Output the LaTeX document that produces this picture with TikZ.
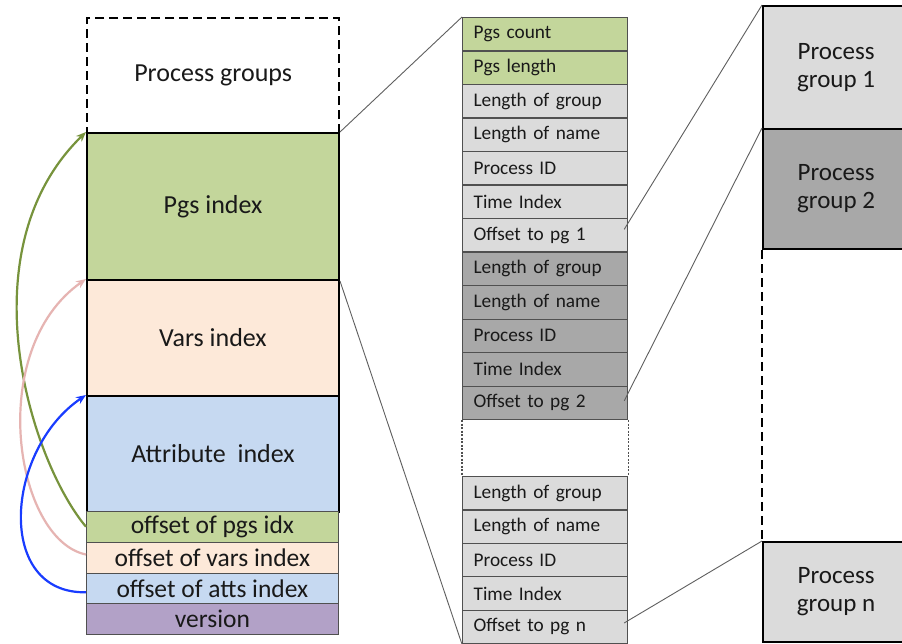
\documentclass[tikz,border=0pt]{standalone}
\usepackage{fontspec}
\setmainfont{Carlito}
\usetikzlibrary{arrows.meta}
\definecolor{pgsgreen}{RGB}{195,214,155}
\definecolor{varspeach}{RGB}{253,233,217}
\definecolor{attblue}{RGB}{198,217,241}
\definecolor{verpurple}{RGB}{178,161,199}
\definecolor{lgray}{RGB}{219,219,219}
\definecolor{dgray}{RGB}{168,168,168}
\definecolor{txt}{RGB}{25,25,25}
\definecolor{cellline}{RGB}{80,80,80}
\definecolor{connline}{RGB}{95,95,95}
\definecolor{arrgreen}{RGB}{119,147,60}
\definecolor{arrpink}{RGB}{230,180,178}
\definecolor{arrblue}{RGB}{25,60,255}
\tikzset{
  bigcell/.style={draw=black, line width=2pt, minimum width=252pt, inner sep=0pt,
    anchor=north west, text=txt, font=\fontsize{26}{30}\selectfont},
  offcell/.style={draw=cellline, line width=0.8pt, minimum width=252pt, minimum height=30.75pt,
    inner sep=0pt, anchor=north west, text=txt, font=\fontsize{25.5}{28}\selectfont},
  midcell/.style={draw=cellline, line width=1.2pt, minimum height=33.5pt, text width=143pt,
    inner xsep=11pt, inner ysep=0pt, align=left, anchor=north west, text=txt,
    font=\fontsize{19.3}{22}\selectfont},
  rbox/.style={draw=black, line width=2.2pt, minimum width=146pt, inner sep=0pt,
    anchor=north west, align=center, text=txt, font=\fontsize{25}{28}\selectfont},
  bigdash/.style={draw=black, line width=2.4pt, dash pattern=on 9pt off 5pt},
  gapline/.style={draw=cellline, line width=1.2pt, dash pattern=on 2pt off 1.5pt},
  conn/.style={draw=connline, line width=0.9pt},
  curvearr/.style={line width=2.2pt, -{Stealth[length=10pt,width=8pt]}}
}
\begin{document}
\begin{tikzpicture}[x=1pt,y=-1pt]
\useasboundingbox (0,0) rectangle (902,644);
\clip (0,0) rectangle (902,644);
\fill[white] (0,0) rectangle (902,644);

% left column
\node[bigcell, bigdash, minimum height=115pt] (pg) at (86,17) {Process groups};
\node[bigcell, fill=pgsgreen, minimum height=147pt] (pgsidx) at (86,132) {Pgs index};
\node[bigcell, fill=varspeach, minimum height=116pt] (varsidx) at (86,279) {Vars index};
\node[bigcell, fill=attblue, minimum height=116pt] (attidx) at (86,395) {Attribute\ \ index};
\node[offcell, fill=pgsgreen] (opgs) at (86,511) {offset of pgs idx};
\node[offcell, fill=varspeach] (ovars) at (86,541.75) {offset of vars index};
\node[offcell, fill=attblue] (oatts) at (86,572.5) {offset of atts index};
\node[offcell, fill=verpurple] (ver) at (86,603.25) {version};

% middle column
\node[midcell, fill=pgsgreen] (m1) at (462,17) {Pgs count};
\node[midcell, fill=pgsgreen] (m2) at (462,50.5) {Pgs length};
\node[midcell, fill=lgray] (m3) at (462,84) {Length of group};
\node[midcell, fill=lgray] (m4) at (462,117.5) {Length of name};
\node[midcell, fill=lgray] (m5) at (462,151) {Process ID};
\node[midcell, fill=lgray] (m6) at (462,184.5) {Time Index};
\node[midcell, fill=lgray] (m7) at (462,218) {Offset to pg 1};
\node[midcell, fill=dgray] (m8) at (462,251.5) {Length of group};
\node[midcell, fill=dgray] (m9) at (462,285) {Length of name};
\node[midcell, fill=dgray] (m10) at (462,318.5) {Process ID};
\node[midcell, fill=dgray] (m11) at (462,352) {Time Index};
\node[midcell, fill=dgray] (m12) at (462,385.5) {Offset to pg 2};
\node[midcell, fill=lgray] (n1) at (462,476) {Length of group};
\node[midcell, fill=lgray] (n2) at (462,509.4) {Length of name};
\node[midcell, fill=lgray] (n3) at (462,542.8) {Process ID};
\node[midcell, fill=lgray] (n4) at (462,576.2) {Time Index};
\node[midcell, fill=lgray] (n5) at (462,609.6) {Offset to pg n};
\draw[gapline] (m12.south west) -- (n1.north west);
\draw[gapline] (m12.south east) -- (n1.north east);

% right column
\node[rbox, fill=lgray, minimum height=123pt] (pg1) at (762,5) {Process\\group 1};
\node[rbox, fill=dgray, minimum height=120pt] (pg2) at (762,128) {Process\\group 2};
\node[rbox, fill=lgray, minimum height=100pt] (pgn) at (762,541) {Process\\group n};
\draw[bigdash] (pg2.south west) -- (pgn.north west);

% zoom connectors
\draw[conn] (pgsidx.north east) -- (m1.north west);
\draw[conn] (pgsidx.south east) -- (n5.south west);
\draw[conn] ([xshift=-4pt,yshift=6pt]m7.east) -- (pg1.north west);
\draw[conn] ([xshift=-4pt,yshift=2pt]m12.east) -- (pg2.north west);
\draw[conn] ([xshift=-4pt,yshift=4pt]n5.east) -- (pgn.north west);

% offset arrows
\draw[curvearr, arrgreen] (opgs.west) .. controls (30,460) and (-35,250) .. (pgsidx.north west);
\draw[curvearr, arrpink] ([yshift=3pt]ovars.west) .. controls (15,540) and (-15,350) .. (varsidx.north west);
\draw[curvearr, arrblue] ([yshift=-4pt]oatts.west) .. controls (-5,594) and (5,450) .. (attidx.north west);
\end{tikzpicture}
\end{document}
